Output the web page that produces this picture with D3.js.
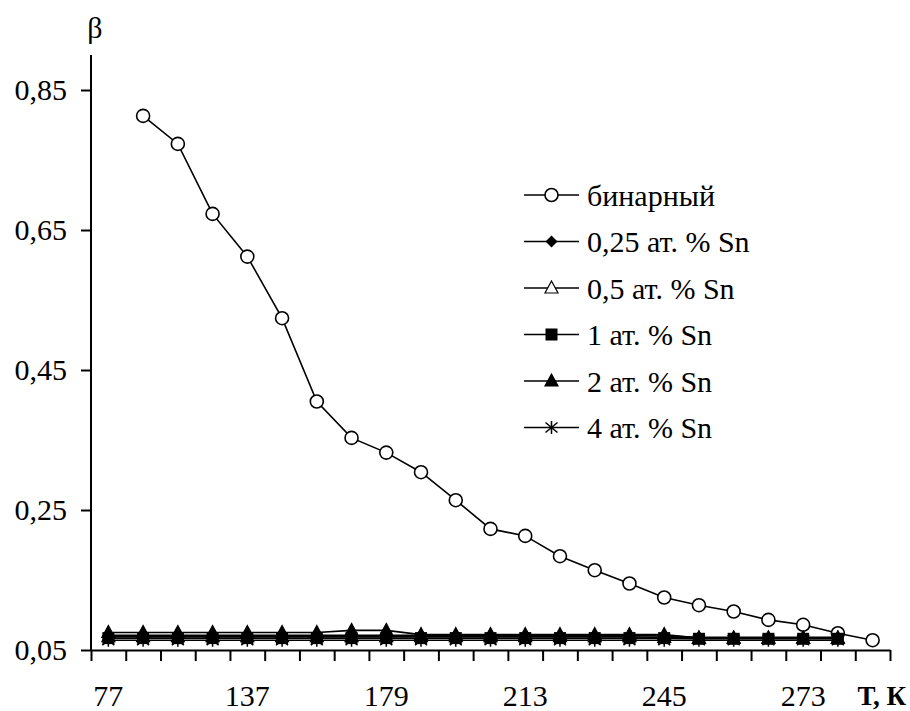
<!DOCTYPE html>
<html lang="ru">
<head>
  <meta charset="UTF-8">
  <script src="https://d3js.org/d3.v7.min.js"></script>
  <style>
    body { margin: 0; background: #fff; }
    svg text { font-family: "Times New Roman", "Liberation Serif", serif !important; font-weight: 400; }
    svg text.bold { font-weight: 700; }
    .axis path, .axis line { stroke: #000; stroke-width: 2px; }
    .series { fill: none; stroke: #000; stroke-width: 1.6px; }
  </style>
</head>
<body>
  <div id="chart"></div>
  <script>
    // temperature categories, K (only every 4th label is printed)
    const temps = [77, 92, 107, 122, 137, 148, 158, 169, 179, 188, 196, 205,
                   213, 221, 229, 237, 245, 252, 259, 266, 273, 280, 287];
    const labelEvery = 4;
    const yTicks = [0.05, 0.25, 0.45, 0.65, 0.85];

    // binary alloy: no value at the first temperature
    const binary = [null, 0.813, 0.773, 0.673, 0.612, 0.524, 0.405, 0.353, 0.332, 0.304,
                    0.264, 0.223, 0.213, 0.184, 0.164, 0.145, 0.125, 0.114, 0.105,
                    0.093, 0.086, 0.074, 0.064];
    // doped alloys: no value at the last temperature
    const sn025 = [0.071, 0.071, 0.071, 0.071, 0.071, 0.071, 0.071, 0.071, 0.071, 0.071, 0.071,
                   0.071, 0.071, 0.071, 0.071, 0.071, 0.070, 0.068, 0.068, 0.068, 0.068, 0.068, null];
    const sn05 = [0.069, 0.069, 0.069, 0.069, 0.069, 0.069, 0.069, 0.069, 0.069, 0.069, 0.069,
                  0.069, 0.069, 0.069, 0.069, 0.069, 0.068, 0.067, 0.067, 0.067, 0.067, 0.067, null];
    const sn1 = [0.067, 0.067, 0.067, 0.067, 0.067, 0.067, 0.067, 0.067, 0.067, 0.067, 0.067,
                 0.067, 0.067, 0.067, 0.067, 0.067, 0.067, 0.066, 0.066, 0.066, 0.066, 0.066, null];
    const sn2 = [0.075, 0.075, 0.075, 0.075, 0.075, 0.075, 0.075, 0.078, 0.078, 0.072, 0.072,
                 0.072, 0.072, 0.072, 0.072, 0.072, 0.072, 0.067, 0.067, 0.067, 0.067, 0.067, null];
    const sn4 = [0.064, 0.064, 0.064, 0.064, 0.064, 0.064, 0.064, 0.064, 0.064, 0.064, 0.064,
                 0.064, 0.064, 0.064, 0.064, 0.064, 0.064, 0.064, 0.064, 0.064, 0.064, 0.064, null];

    const seriesNames = ["бинарный", "0,25 ат. % Sn", "0,5 ат. % Sn", "1 ат. % Sn", "2 ат. % Sn", "4 ат. % Sn"];
    const seriesValues = [binary, sn025, sn05, sn1, sn2, sn4];
    const seriesMarkers = ["circle", "diamond", "triangleOpen", "square", "triangle", "star"];

    const width = 910, height = 711;
    const plotLeft = 91, plotRight = 890, plotTop = 55, plotBottom = 650;
    const fontFam = "Times New Roman";

    const svg = d3.select("#chart").append("svg")
      .attr("width", width)
      .attr("height", height)
      .attr("font-family", fontFam);

    const x = d3.scaleBand().domain(d3.range(temps.length)).range([plotLeft, plotRight]).padding(0);
    const xEdge = d3.scaleLinear().domain([0, temps.length]).range([plotLeft, plotRight]);
    const y = d3.scaleLinear().domain([0.05, 0.9]).range([plotBottom, plotTop]);
    const cx = i => x(i) + x.bandwidth() / 2;

    // marker drawing
    function drawMarker(g, type, px, py) {
      const m = g.append("g").attr("transform", `translate(${px},${py})`);
      if (type === "circle") {
        m.append("circle").attr("r", 6.5).attr("fill", "#fff").attr("stroke", "#000").attr("stroke-width", 1.6);
      } else if (type === "diamond") {
        m.append("path").attr("d", "M0,-6L6,0L0,6L-6,0Z").attr("fill", "#000");
      } else if (type === "square") {
        m.append("rect").attr("x", -6).attr("y", -6).attr("width", 12).attr("height", 12).attr("fill", "#000");
      } else if (type === "triangle" || type === "triangleOpen") {
        m.append("path").attr("d", "M0,-7L6.5,5L-6.5,5Z")
          .attr("fill", type === "triangle" ? "#000" : "#fff")
          .attr("stroke", "#000").attr("stroke-width", 1.2);
      } else if (type === "star") {
        m.append("path").attr("d", "M0,-6.5L0,6.5M-6,-5L6,5M-6,5L6,-5")
          .attr("stroke", "#000").attr("stroke-width", 1.5).attr("fill", "none");
      }
    }

    // axes: tick marks between categories (no texts)
    svg.append("g")
      .attr("class", "axis")
      .attr("transform", `translate(0,${plotBottom})`)
      .call(d3.axisBottom(xEdge).tickValues(d3.range(temps.length + 1)).tickSize(11).tickSizeOuter(0).tickFormat(""))
      .call(g => g.attr("font-family", fontFam))
      .call(g => g.selectAll("text").remove());

    svg.append("g")
      .attr("class", "axis")
      .attr("transform", `translate(${plotLeft},0)`)
      .call(d3.axisLeft(y).tickValues(yTicks).tickSize(10).tickSizeOuter(0)
        .tickFormat(d => d3.format(".2f")(d).replace(".", ",")))
      .call(g => g.attr("font-family", fontFam).attr("font-size", 30))
      .call(g => g.selectAll("text").attr("x", -24).attr("fill", "#000").attr("font-family", fontFam))
      .call(g => g.select(".domain").attr("d", `M0,${plotTop}V${plotBottom}`));

    const xLabels = svg.append("g")
      .attr("class", "axis")
      .attr("transform", `translate(0,${plotBottom})`)
      .call(d3.axisBottom(x).tickValues(d3.range(0, temps.length, labelEvery)).tickSize(0).tickPadding(35)
        .tickFormat(i => temps[i]))
      .call(g => g.attr("font-family", fontFam).attr("font-size", 30))
      .call(g => g.selectAll("text").attr("fill", "#000").attr("font-family", fontFam));
    xLabels.select(".domain").remove();

    // axis titles
    svg.append("text").attr("x", plotLeft + 4).attr("y", 38).attr("text-anchor", "middle")
      .attr("font-family", fontFam).attr("font-size", 30).text("β");
    svg.append("text").attr("class", "bold").attr("x", 906).attr("y", 705).attr("text-anchor", "end")
      .attr("font-family", fontFam).attr("font-size", 27).attr("font-weight", "bold").text("Т, К");

    // series
    const line = d3.line()
      .defined(d => d != null)
      .x((d, i) => cx(i))
      .y(d => y(d));

    seriesValues.forEach((vals, k) => {
      const g = svg.append("g");
      g.append("path").attr("class", "series").attr("d", line(vals));
      vals.forEach((v, i) => {
        if (v != null) drawMarker(g, seriesMarkers[k], cx(i), y(v));
      });
    });

    // legend
    const legend = svg.append("g").attr("transform", "translate(524,195)");
    seriesNames.forEach((name, k) => {
      const row = legend.append("g").attr("transform", `translate(0,${k * 46.5})`);
      row.append("line").attr("x1", 0).attr("x2", 55).attr("y1", 0).attr("y2", 0)
        .attr("stroke", "#000").attr("stroke-width", 1.6);
      drawMarker(row, seriesMarkers[k], 27.5, 0);
      row.append("text").attr("x", 63).attr("y", 0).attr("dy", "0.35em")
        .attr("font-family", fontFam).attr("font-size", 30).text(name);
    });
  </script>
</body>
</html>
